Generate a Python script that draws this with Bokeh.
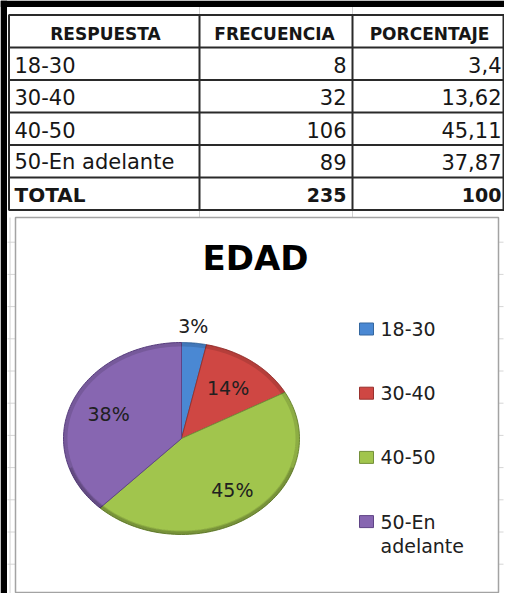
import numpy as np
from bokeh.plotting import figure
from bokeh.models import Range1d
from bokeh.core.properties import value
from bokeh.embed import file_html
from bokeh.resources import INLINE

# ---------------- data ----------------
chart_title = "EDAD"
headers = ["RESPUESTA", "FRECUENCIA", "PORCENTAJE"]
categories = ["18-30", "30-40", "40-50", "50-En adelante"]
frequencies = [8, 32, 106, 89]
percentages = [3.4, 13.62, 45.11, 37.87]
total_label = "TOTAL"
total_frequency = 235
total_percentage = 100

# ---------------- styles ----------------
colors = ["#4a88d3", "#cf4743", "#a1c54d", "#8766b1"]
edge_colors = ["#34679f", "#99312e", "#74903a", "#5f4486"]
FONT = value("DejaVu Sans")
TXT = "#161616"

p = figure(width=504, height=593, x_range=Range1d(8, 512), y_range=Range1d(601, 8),
           output_backend="svg", toolbar_location=None, min_border=0,
           x_axis_location=None, y_axis_location=None)
p.grid.visible = False
p.outline_line_color = None
p.background_fill_color = "white"
p.border_fill_color = "white"

# ---------------- sheet frame ----------------
p.quad(left=[8, 8], right=[14.5, 512], top=[8, 8], bottom=[601, 14.5],
       fill_color="black", line_color=None)

# faint spreadsheet gridlines peeking around the chart
grid_y = [217.5 + 32.2 * k for k in range(1, 12)]
p.segment(x0=[15] * len(grid_y), x1=[23] * len(grid_y), y0=grid_y, y1=grid_y,
          line_color="#d6d6d6", line_width=1)
p.segment(x0=[506] * len(grid_y), x1=[511] * len(grid_y), y0=grid_y, y1=grid_y,
          line_color="#d6d6d6", line_width=1)
p.segment(x0=[207, 360, 207, 360, 17.5], x1=[207, 360, 207, 360, 17.5],
          y0=[14.5, 14.5, 217.5, 217.5, 225], y1=[22.5, 22.5, 225, 225, 601],
          line_color="#d0d0d0", line_width=1)

# ---------------- table ----------------
n_rows = len(categories) + 2
row_lines = [22.5] + [55 + 32.5 * i for i in range(n_rows)]
p.segment(x0=[16] * len(row_lines), x1=[512] * len(row_lines), y0=row_lines, y1=row_lines,
          line_color="#2a2a2a", line_width=2)
col_lines = [16.5, 207, 360, 511]
p.segment(x0=col_lines, x1=col_lines, y0=[22.5] * 4, y1=[row_lines[-1]] * 4,
          line_color="#2a2a2a", line_width=2)

# header
p.text(x=[113, 282, 437], y=[41] * 3, text=headers, text_font=FONT, text_font_style="bold",
       text_font_size="17px", text_align="center", text_baseline="middle", text_color=TXT)

row_y = [72 + 32.5 * i for i in range(len(categories))]
p.text(x=[22] * len(categories), y=row_y, text=categories, text_font=FONT,
       text_font_size="21px", text_align="left", text_baseline="middle", text_color=TXT)
p.text(x=[354] * len(categories), y=row_y, text=[str(f) for f in frequencies], text_font=FONT,
       text_font_size="21px", text_align="right", text_baseline="middle", text_color=TXT)
p.text(x=[509] * len(categories), y=row_y, text=[str(v).replace(".", ",") for v in percentages],
       text_font=FONT, text_font_size="21px", text_align="right", text_baseline="middle",
       text_color=TXT)

ty = row_y[-1] + 32.5
p.text(x=[22], y=[ty], text=[total_label], text_font=FONT, text_font_style="bold",
       text_font_size="20px", text_align="left", text_baseline="middle", text_color=TXT)
p.text(x=[354, 509], y=[ty, ty], text=[str(total_frequency), str(total_percentage)],
       text_font=FONT, text_font_style="bold", text_font_size="19px", text_align="right",
       text_baseline="middle", text_color=TXT)

# ---------------- chart area ----------------
p.quad(left=[23], right=[506], top=[225], bottom=[600], fill_color="white",
       line_color="#a3a3a3", line_width=1.5)

p.text(x=[263], y=[265], text=[chart_title], text_font=FONT, text_font_style="bold",
       text_font_size="34px", text_align="center", text_baseline="middle", text_color="black")

# pie (slightly tilted -> elliptical), clockwise from 12 o'clock
cx, cy, rx, ry = 189, 446, 118, 96
frac = np.array(percentages, dtype=float) / np.sum(percentages)
cum = np.concatenate([[0.0], np.cumsum(frac)])
xs, ys = [], []
for i in range(len(frac)):
    t = np.linspace(cum[i], cum[i + 1], 90) * 2 * np.pi
    xs.append(np.concatenate([[cx], cx + rx * np.sin(t), [cx]]).tolist())
    ys.append(np.concatenate([[cy], cy - ry * np.cos(t), [cy]]).tolist())
p.patches(xs=xs, ys=ys, fill_color=colors, line_color=edge_colors, line_width=1)

# soft bevel shading along the rim
tt = np.linspace(0, 2 * np.pi, 240)
p.line(x=(cx + (rx - 2) * np.sin(tt)).tolist(), y=(cy - (ry - 2) * np.cos(tt)).tolist(),
       line_color="black", line_alpha=0.12, line_width=4)
tb = np.linspace(0.3, 0.7, 120) * 2 * np.pi
p.line(x=(cx + (rx - 1.5) * np.sin(tb)).tolist(), y=(cy - (ry - 1.5) * np.cos(tb)).tolist(),
       line_color="black", line_alpha=0.15, line_width=3)

# data labels
label_r = [1.18, 0.66, 0.68, 0.675]
label_dx = [-3, 0, 2, 1]
mid = (cum[:-1] + cum[1:]) / 2 * 2 * np.pi
lx = cx + rx * np.array(label_r) * np.sin(mid) + np.array(label_dx)
ly = cy - ry * np.array(label_r) * np.cos(mid)
p.text(x=lx.tolist(), y=ly.tolist(), text=[f"{round(v)}%" for v in percentages],
       text_font=FONT, text_font_size="19px", text_align="center", text_baseline="middle",
       text_color="#202020")

# legend
leg_y = [336.5 + 64.2 * i for i in range(len(categories))]
p.quad(left=[367] * len(categories), right=[381] * len(categories),
       top=[y - 6 for y in leg_y], bottom=[y + 6 for y in leg_y],
       fill_color=colors, line_color=edge_colors, line_width=1)
lt_x, lt_y, lt_t = [], [], []
for y, c in zip(leg_y, categories):
    parts = c.split(" ", 1) if len(c) > 8 else [c]
    for j, part in enumerate(parts):
        lt_x.append(388)
        lt_y.append(y + 24 * j)
        lt_t.append(part)
p.text(x=lt_x, y=lt_y, text=lt_t, text_font=FONT, text_font_size="19px",
       text_align="left", text_baseline="middle", text_color="#202020")

open("out.html", "w").write(file_html(p, INLINE))
